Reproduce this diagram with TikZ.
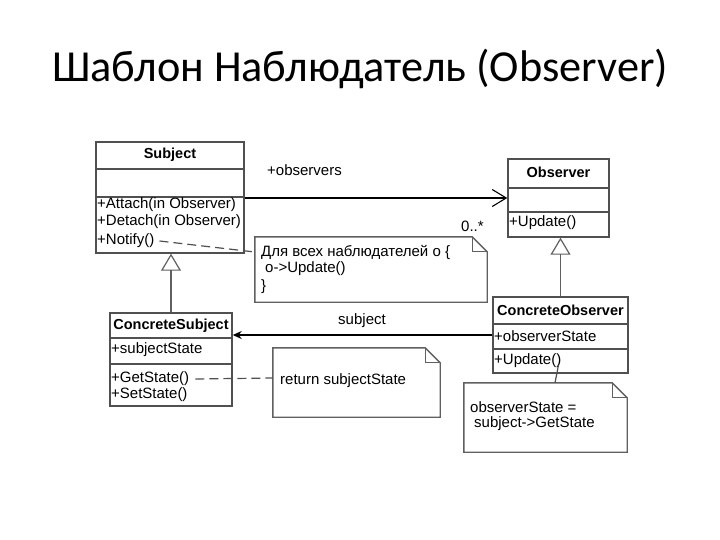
\documentclass[tikz,border=0pt]{standalone}
\usepackage{fontspec}
\setmainfont{Liberation Sans}
\newfontfamily\titlefont{Carlito}
\usetikzlibrary{arrows.meta,calc}
\definecolor{bord}{HTML}{505050}
\definecolor{lgray}{HTML}{606060}
\tikzset{
  umlbox/.style={draw=bord,line width=1.4pt,inner sep=0pt,fill=white},
  txt/.style={inner sep=0pt,anchor=west,font=\fontsize{15}{17}\selectfont},
  hdr/.style={inner sep=0pt,font=\fontsize{14.5}{17}\selectfont\bfseries},
  sepline/.style={draw=bord,line width=1.4pt},
  notefr/.style={draw=lgray,line width=1.4pt},
  dashconn/.style={draw=bord,line width=1.2pt,dash pattern=on 9pt off 5pt},
  inherit/.style={draw=lgray,line width=1.4pt,-{Triangle[open,length=17pt,width=20pt,line width=1.2pt]}},
}
\newcommand{\mknote}[5]{%
  \node[inner sep=0pt,minimum width=#4pt-#2pt,minimum height=#5pt-#3pt] (#1) at ({(#2+#4)/2},{(#3+#5)/2}) {};
  \draw[notefr] (#1.north west) -- ([xshift=-15pt]#1.north east) -- ([yshift=-15pt]#1.north east) -- (#1.south east) -- (#1.south west) -- cycle;
  \draw[notefr,line width=1pt] ([xshift=-15pt]#1.north east) -- ([xshift=-15pt,yshift=-15pt]#1.north east) -- ([yshift=-15pt]#1.north east);
}
\begin{document}
\begin{tikzpicture}[x=1pt,y=-1pt]
\useasboundingbox[fill=white] (0,0) rectangle (720,540);
% title
\node[inner sep=0pt,anchor=base,font=\titlefont\fontsize{44.3}{50}\selectfont] (title) at (360,82) {Шаблон Наблюдатель (Observer)};

% Subject
\node[umlbox,minimum width=148pt,minimum height=111pt] (subject) at (170,197.5) {};
\draw[sepline] (96,169) -- (244,169);
\draw[sepline] (96,197) -- (244,197);
\node[hdr] (subjectT) at (170,155) {Subject};
\node[txt] (attach) at (97,205) {+Attach(in Observer)};
\node[txt] (detach) at (97,222) {+Detach(in Observer)};
\node[txt] (notify) at (97,241) {+Notify()};

% Observer
\node[umlbox,minimum width=101pt,minimum height=78pt] (observer) at (558.5,198) {};
\draw[sepline] (508,188) -- (609,188);
\draw[sepline] (508,212) -- (609,212);
\node[hdr] (observerT) at (558.5,172) {Observer};
\node[txt] (oupdate) at (509,223) {+Update()};

% ConcreteSubject
\node[umlbox,minimum width=122pt,minimum height=93pt] (csubj) at (171,359.5) {};
\draw[sepline] (110,338) -- (232,338);
\draw[sepline] (110,364) -- (232,364);
\node[hdr] (csubjT) at (171,326) {ConcreteSubject};
\node[txt] (sstate) at (111,350) {+subjectState};
\node[txt] (getstate) at (111,379) {+GetState()};
\node[txt] (setstate) at (111,395) {+SetState()};

% ConcreteObserver
\node[umlbox,minimum width=135pt,minimum height=76pt] (cobs) at (560.5,335) {};
\draw[sepline] (493,324) -- (628,324);
\draw[sepline] (493,349) -- (628,349);
\node[hdr] (cobsT) at (560.5,310) {ConcreteObserver};
\node[txt] (ostate) at (494,336) {+observerState};
\node[txt] (cupdate) at (494,361) {+Update()};

% notes
\mknote{noteA}{255}{237}{487}{302}
\node[txt] (nA1) at (261,252) {Для всех наблюдателей o \{};
\node[txt] (nA2) at (265,269) {o->Update()};
\node[txt] (nA3) at (261,287) {\}};
\mknote{noteB}{273}{348}{440}{417}
\node[txt] (nB1) at (280,381) {return subjectState};
\mknote{noteC}{464}{383}{627}{452}
\node[txt] (nC1) at (470,407) {observerState =};
\node[txt] (nC2) at (474,424) {subject->GetState};

% associations
\draw[line width=1.1pt,-{Straight Barb[length=14pt,width=17pt,line width=1.1pt]}] (subject.east |- 0,198) -- (observer.west |- 0,198);
\node[txt] (obsL) at (267,170) {+observers};
\node[txt] (multL) at (461,226) {0..*};
\draw[line width=1.5pt,-{Stealth[length=9pt,width=8pt]}] (cobs.west |- 0,335) -- (csubj.east |- 0,335);
\node[inner sep=0pt,font=\fontsize{15}{17}\selectfont] (subjL) at (362,321) {subject};

% inheritance
\draw[inherit] (csubj.north) -- (csubj.north |- subject.south);
\draw[inherit] (cobs.north) -- (cobs.north |- observer.south);

% note connectors
\draw[dashconn] ([xshift=5pt]notify.east) -- (noteA.west |- 0,252);
\draw[dashconn] ([xshift=6pt]getstate.east) -- (noteB.west |- 0,378);
\draw[draw=bord,line width=1.2pt] ([xshift=-3pt,yshift=-4pt]cupdate.east) -- (noteC.north -| 555,0);
\end{tikzpicture}
\end{document}
